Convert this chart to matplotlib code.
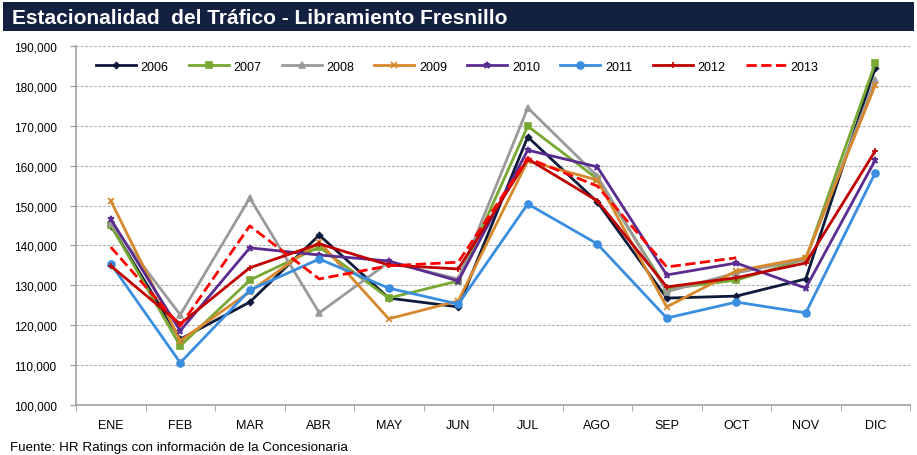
import matplotlib
matplotlib.use("Agg")
import matplotlib.pyplot as plt
from matplotlib.patches import Rectangle
from matplotlib.ticker import FuncFormatter, FixedLocator

plt.rcParams['font.family'] = ['Liberation Sans', 'DejaVu Sans']

months = ["ENE", "FEB", "MAR", "ABR", "MAY", "JUN", "JUL", "AGO", "SEP", "OCT", "NOV", "DIC"]

y2006 = [145000, 116500, 125800, 142600, 126800, 124600, 167200, 150900, 126800, 127300, 131600, 184500]
y2007 = [145100, 114800, 131300, 139600, 126800, 131100, 169900, 156700, 129100, 131300, 136600, 185700]
y2008 = [145600, 122600, 151900, 123100, 135800, 131600, 174500, 157400, 128400, 133100, 136600, 181500]
y2009 = [151200, 116100, 128400, 140900, 121600, 126100, 161200, 156400, 124600, 133600, 136900, 180200]
y2010 = [146600, 118600, 139400, 137600, 136100, 131100, 163900, 159700, 132600, 135600, 129300, 161400]
y2011 = [135400, 110600, 128800, 136600, 129300, 125300, 150400, 140400, 121800, 125800, 123100, 158200]
y2012 = [134900, 120300, 134400, 140400, 135100, 134100, 161700, 151200, 129600, 131900, 135600, 163700]
y2013 = [139600, 119800, 144900, 131600, 134900, 135800, 161900, 154900, 134600, 136900]

series = [
    ("2006", y2006, "#0e1a3a", "D", "-", 3),
    ("2007", y2007, "#77a832", "s", "-", 5),
    ("2008", y2008, "#9a9a9a", "^", "-", 5),
    ("2009", y2009, "#d8882c", "x", "-", 5),
    ("2010", y2010, "#5b2c8f", "*", "-", 5),
    ("2011", y2011, "#3a8ee0", "o", "-", 5),
    ("2012", y2012, "#c00000", "+", "-", 5),
    ("2013", y2013, "#ff0000", None, "--", 0),
]

fig = plt.figure(figsize=(9.17, 4.56), dpi=100)

# Title bar
fig.patches.append(Rectangle((3/917, 1-32/456), 911/917, 29/456, transform=fig.transFigure,
                             facecolor="#13203f", edgecolor="none"))
fig.text(12/917, 1-18/456, "Estacionalidad  del Tráfico - Libramiento Fresnillo", color="white",
         fontsize=15, fontweight="bold", va="center", ha="left")

ax = fig.add_axes([76/917, 1-406/456, 834/917, 359/456])
x = list(range(len(months)))
for name, vals, col, mk, ls, ms in series:
    ax.plot(x[:len(vals)], vals, color=col, marker=mk, linestyle=ls, linewidth=2,
            markersize=ms, label=name, markeredgewidth=1.2, zorder=3)

ax.set_xlim(-0.5, 11.5)
ax.set_ylim(100000, 190000)
ax.set_yticks(range(100000, 190001, 10000))
ax.yaxis.set_major_formatter(FuncFormatter(lambda v, p: f"{int(v):,}"))
ax.set_xticks(x)
ax.set_xticklabels(months)
ax.xaxis.set_minor_locator(FixedLocator([i - 0.5 for i in range(13)]))
ax.tick_params(axis='x', which='major', length=0, pad=10, labelsize=9)
ax.tick_params(axis='x', which='minor', length=4, color="#999999")
ax.tick_params(axis='y', length=4, color="#999999", labelsize=8.5, pad=10)
ax.grid(axis='y', linestyle=(0, (2.5, 1.5)), color="#b0b0b0", linewidth=0.8, zorder=0)
for s in ["top", "right"]:
    ax.spines[s].set_visible(False)
for s in ["left", "bottom"]:
    ax.spines[s].set_color("#a0a0a0")
    ax.spines[s].set_linewidth(1.2)

leg = ax.legend(loc="upper left", bbox_to_anchor=(0.01, 0.99), ncol=8, frameon=False,
                fontsize=9, handlelength=3.2, columnspacing=1.6, handletextpad=0.4)

fig.text(10/917, 1-448/456, "Fuente: HR Ratings con información de la Concesionaria", fontsize=9.6,
         va="center", ha="left")

fig.savefig("out.png", dpi=100)
